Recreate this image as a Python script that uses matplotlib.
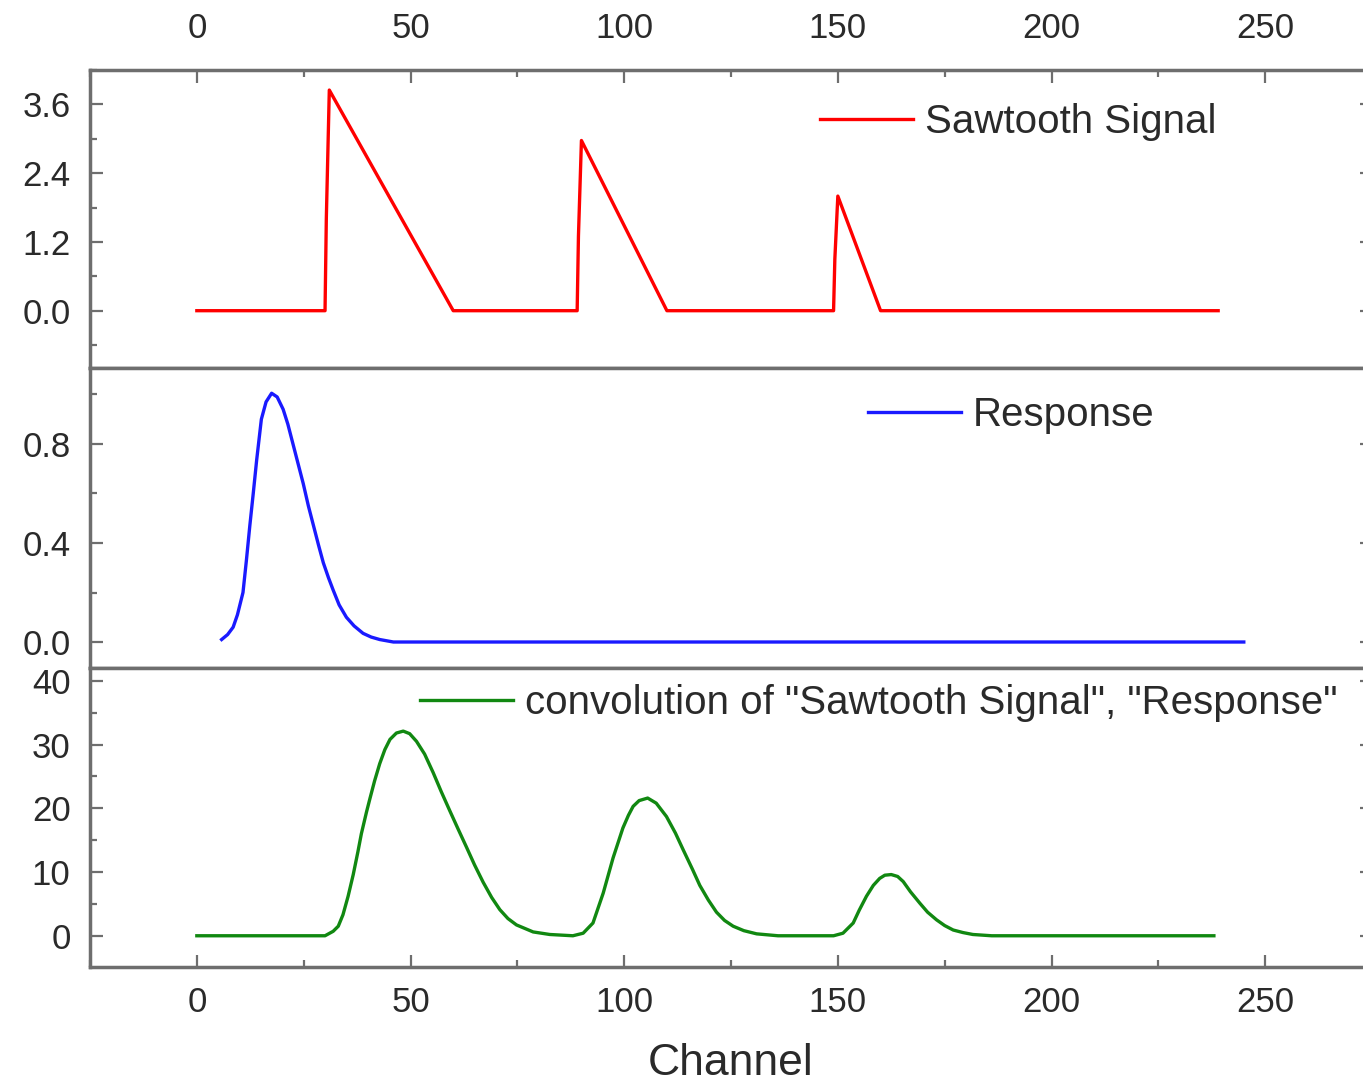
import matplotlib
matplotlib.use("Agg")
import matplotlib.pyplot as plt
from matplotlib.ticker import MultipleLocator, FormatStrFormatter

plt.rcParams["font.family"] = ["Liberation Sans", "DejaVu Sans"]

# --- data ---
saw_x = [0, 30, 30.3, 31, 60, 89, 89.3, 90, 110, 149, 149.3, 150, 160, 239]
saw_y = [0, 0, 1.6, 3.85, 0, 0, 1.3, 2.97, 0, 0, 0.9, 2.0, 0, 0]

resp_x = [5.8, 7.2, 8.5, 9.5, 10.8, 11.6, 12.4, 13.2, 14.0, 15.1, 16.2, 17.5,
          18.8, 20.2, 21.3, 22.5, 23.7, 24.9, 26.1, 27.3, 28.5, 29.6, 30.8,
          31.9, 33.3, 35.0, 36.8, 38.9, 40.8, 42.8, 46, 245]
resp_y = [0.01, 0.03, 0.06, 0.11, 0.20, 0.33, 0.47, 0.60, 0.735, 0.90, 0.97,
          1.005, 0.99, 0.94, 0.88, 0.80, 0.72, 0.64, 0.55, 0.47, 0.39, 0.32,
          0.26, 0.21, 0.15, 0.10, 0.065, 0.035, 0.02, 0.01, 0.0, 0.0]

conv_x = [0, 30, 31.9, 33.1, 34.2, 35.4, 36.6, 37.7, 38.5, 39.7, 40.5, 41.6,
          42.8, 44.0, 45.2, 46.7, 48.3, 49.8, 51.4, 53.3, 55.3, 57.2, 59.2,
          61.1, 63.1, 65.0, 67.0, 69.0, 70.9, 72.8, 74.8, 78.7, 82.6, 88,
          90.4, 92.7, 95.1, 97.4, 99.7, 101.0, 102.1, 103.5, 105.5, 107.5,
          109.9, 112.0, 113.8, 116.0, 117.7, 119.7, 121.6, 123.5, 125.5, 128.0,
          131.0, 136, 149, 151.2, 153.6, 155.0, 156.7, 158.3, 159.8, 161.0,
          162.5, 164.0, 165.3, 167.0, 169.2, 171.0, 173.1, 175.0, 177.0,
          179.3, 181.6, 186, 238]
conv_y = [0, 0, 0.7, 1.5, 3.3, 6.2, 9.6, 13.2, 16.0, 19.4, 21.5, 24.3,
          27.0, 29.2, 30.8, 31.8, 32.1, 31.7, 30.5, 28.5, 25.6, 22.6, 19.6,
          16.8, 13.9, 11.1, 8.4, 6.0, 4.1, 2.7, 1.7, 0.6, 0.2, 0,
          0.4, 2.0, 6.7, 12.2, 16.9, 18.9, 20.3, 21.2, 21.6, 20.8,
          18.7, 16.1, 13.5, 10.4, 7.9, 5.6, 3.7, 2.4, 1.5, 0.8,
          0.3, 0, 0, 0.4, 2.0, 4.0, 6.2, 7.9, 9.0, 9.5,
          9.6, 9.3, 8.5, 6.9, 5.1, 3.7, 2.5, 1.6, 0.9,
          0.5, 0.2, 0, 0]

saw_label = "Sawtooth Signal"
resp_label = "Response"
conv_label = 'convolution of "Sawtooth Signal", "Response"'

W, H = 1363, 1090
fig = plt.figure(figsize=(W / 100, H / 100), dpi=100)

left = 90 / W
width = (1372 - 90) / W


def frac(ypix):
    return 1 - ypix / H


ax_top = fig.add_axes([left, frac(368), width, frac(70) - frac(368)])
ax_mid = fig.add_axes([left, frac(668), width, frac(368) - frac(668)])
ax_bot = fig.add_axes([left, frac(967), width, frac(668) - frac(967)])

spine_col = "#6e6e6e"
text_col = "#2a2a2a"

for ax in (ax_top, ax_mid, ax_bot):
    ax.set_xlim(-25, 275)
    ax.xaxis.set_major_locator(MultipleLocator(50))
    ax.xaxis.set_minor_locator(MultipleLocator(25))
    for s in ax.spines.values():
        s.set_color(spine_col)
        s.set_linewidth(2.5)
    ax.tick_params(which="both", direction="in", color=spine_col,
                   labelcolor=text_col, labelsize=25, width=1.6,
                   left=True, right=True, top=False, bottom=False,
                   labelbottom=False, labeltop=False, pad=14)
    ax.tick_params(which="major", length=9)
    ax.tick_params(which="minor", length=5)

ax_top.tick_params(which="both", top=True, labeltop=True)
ax_top.tick_params(axis="x", pad=18)
ax_bot.tick_params(which="both", bottom=True, labelbottom=True)

# top panel
ax_top.plot(saw_x, saw_y, color="#ff0000", lw=2.4, label=saw_label)
ax_top.set_ylim(-1.0, 4.2)
ax_top.yaxis.set_major_locator(MultipleLocator(1.2))
ax_top.yaxis.set_minor_locator(MultipleLocator(0.6))
ax_top.yaxis.set_major_formatter(FormatStrFormatter("%.1f"))

# middle panel
ax_mid.plot(resp_x, resp_y, color="#1a1aff", lw=2.4, label=resp_label)
ax_mid.set_ylim(-0.105, 1.107)
ax_mid.yaxis.set_major_locator(MultipleLocator(0.4))
ax_mid.yaxis.set_minor_locator(MultipleLocator(0.2))
ax_mid.yaxis.set_major_formatter(FormatStrFormatter("%.1f"))

# bottom panel
ax_bot.plot(conv_x, conv_y, color="#118811", lw=2.4, label=conv_label)
ax_bot.set_ylim(-4.9, 42)
ax_bot.yaxis.set_major_locator(MultipleLocator(10))
ax_bot.yaxis.set_minor_locator(MultipleLocator(5))
ax_bot.set_xlabel("Channel", fontsize=32, color=text_col, labelpad=17)

# legends, placed where the reference puts them
for ax, xpix, ypix in ((ax_top, 820, 122), (ax_mid, 868, 415), (ax_bot, 420, 703)):
    ax.legend(loc="center left", bbox_to_anchor=(xpix / W, frac(ypix)),
              bbox_transform=fig.transFigure, frameon=False, fontsize=29,
              handlelength=2.3, handletextpad=0.3, borderpad=0,
              borderaxespad=0, labelcolor=text_col)

fig.savefig("out.png", dpi=100)
